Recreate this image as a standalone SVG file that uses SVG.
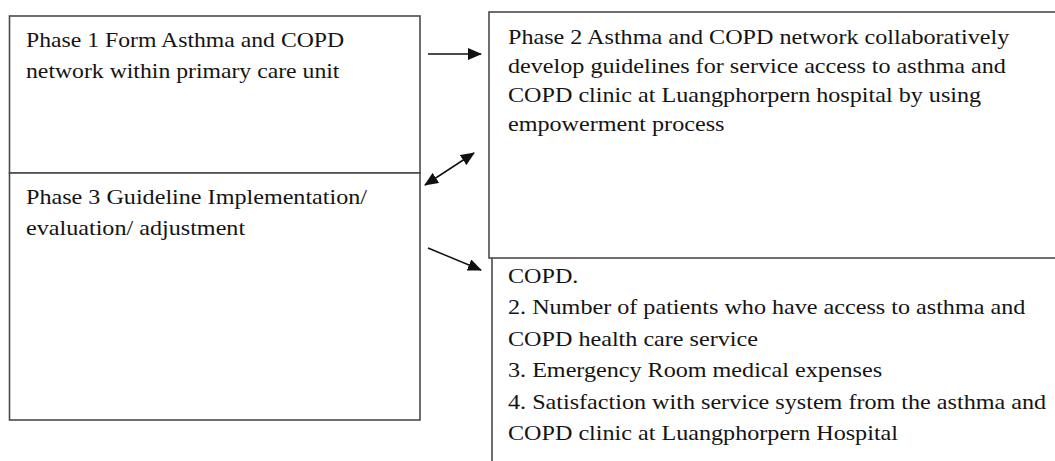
<svg xmlns="http://www.w3.org/2000/svg" width="1055" height="461" viewBox="0 0 1055 461">
  <style>
    .box { fill: #ffffff; stroke: #4a4a4a; stroke-width: 1.6; }
    .edge { fill: none; stroke: #4a4a4a; stroke-width: 1.6; }
    .label { font-family: 'Liberation Serif', 'Times New Roman', serif; font-size: 21px; fill: #141414; }
    .link { fill: none; stroke: #111111; stroke-width: 1.5; }
  </style>
  <defs>
    <marker id="head" viewBox="0 0 14 12" refX="13" refY="6" markerWidth="14" markerHeight="12" markerUnits="userSpaceOnUse" orient="auto-start-reverse">
      <path d="M0,0 L14,6 L0,12 Z" fill="#111111"/>
    </marker>
  </defs>

  <rect width="1055" height="461" fill="#ffffff"/>

  <!-- Phase 1 -->
  <g id="phase1">
    <rect class="box" x="9.5" y="16" width="410.5" height="157"/>
    <text class="label" transform="translate(26,0) scale(1.13,1)">
      <tspan x="0" y="47">Phase 1 Form Asthma and COPD</tspan>
      <tspan x="0" y="78">network within primary care unit</tspan>
    </text>
  </g>

  <!-- Phase 3 -->
  <g id="phase3">
    <rect class="box" x="9.5" y="173" width="410.5" height="247"/>
    <text class="label" transform="translate(26,0) scale(1.15,1)">
      <tspan x="0" y="204">Phase 3 Guideline Implementation/</tspan>
      <tspan x="0" y="235">evaluation/ adjustment</tspan>
    </text>
  </g>

  <!-- Phase 2 -->
  <g id="phase2">
    <rect class="box" x="489" y="12" width="580" height="246"/>
    <text class="label" transform="translate(508,0) scale(1.15,1)">
      <tspan x="0" y="44">Phase 2 Asthma and COPD network collaboratively</tspan>
      <tspan x="0" y="73">develop guidelines for service access to asthma and</tspan>
      <tspan x="0" y="102">COPD clinic at Luangphorpern hospital by using</tspan>
      <tspan x="0" y="131">empowerment process</tspan>
    </text>
  </g>

  <!-- Outcome indicators -->
  <g id="outcomes">
    <path class="edge" d="M492,258 V461"/>
    <text class="label" transform="translate(508,0) scale(1.15,1)">
      <tspan x="0" y="283">COPD.</tspan>
      <tspan x="0" y="314">2. Number of patients who have access to asthma and</tspan>
      <tspan x="0" y="346">COPD health care service</tspan>
      <tspan x="0" y="377">3. Emergency Room medical expenses</tspan>
      <tspan x="0" y="409">4. Satisfaction with service system from the asthma and</tspan>
      <tspan x="0" y="440">COPD clinic at Luangphorpern Hospital</tspan>
    </text>
  </g>

  <!-- Connectors -->
  <g id="connectors">
    <line class="link" x1="428" y1="54" x2="481" y2="54" marker-end="url(#head)"/>
    <line class="link" x1="425" y1="185" x2="474" y2="153" marker-start="url(#head)" marker-end="url(#head)"/>
    <line class="link" x1="428" y1="248" x2="481" y2="270" marker-end="url(#head)"/>
  </g>
</svg>
